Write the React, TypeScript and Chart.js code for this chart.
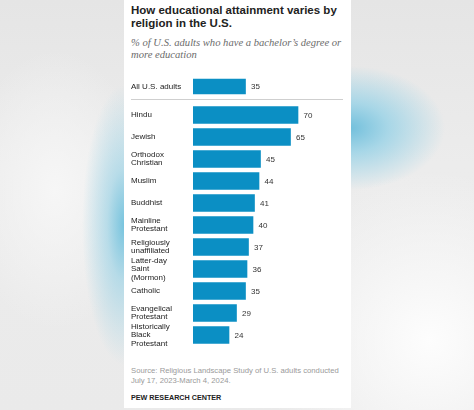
import React, { useEffect, useRef } from "react";
import { Chart, registerables } from "chart.js";

Chart.register(...registerables);

// ---- data ----
const topCategories: string[][] = [["All U.S. adults"]];
const topValues: number[] = [35];

const categories: string[][] = [
  ["Hindu"],
  ["Jewish"],
  ["Orthodox", "Christian"],
  ["Muslim"],
  ["Buddhist"],
  ["Mainline", "Protestant"],
  ["Religiously", "unaffiliated"],
  ["Latter-day", "Saint", "(Mormon)"],
  ["Catholic"],
  ["Evangelical", "Protestant"],
  ["Historically", "Black", "Protestant"],
];
const values: number[] = [70, 65, 45, 44, 41, 40, 37, 36, 35, 29, 24];

const xMax = 100;

const titleLines = ["How educational attainment varies by", "religion in the U.S."];
const subtitleLines = ["% of U.S. adults who have a bachelor’s degree or", "more education"];
const sourceLines = [
  "Source: Religious Landscape Study of U.S. adults conducted",
  "July 17, 2023-March 4, 2024.",
];
const credit = "PEW RESEARCH CENTER";

// ---- styles ----
const SANS = "'Liberation Sans', Arial, Helvetica, sans-serif";
const SERIF = "'Liberation Serif', 'Times New Roman', serif";
const BAR_COLOR = "#0b8fc4";

const valueLabels = {
  id: "valueLabels",
  afterDatasetsDraw(chart: any) {
    const ctx = chart.ctx;
    const meta = chart.getDatasetMeta(0);
    const data = chart.data.datasets[0].data;
    ctx.save();
    ctx.font = `8px ${SANS}`;
    ctx.fillStyle = "#333333";
    ctx.textBaseline = "middle";
    ctx.textAlign = "left";
    meta.data.forEach((bar: any, i: number) => {
      ctx.fillText(String(data[i]), bar.x + 5.5, bar.y + 0.5);
    });
    ctx.restore();
  },
};

function makeConfig(labels: string[][], data: number[], thickness: number, pad: number): any {
  return {
    type: "bar",
    data: {
      labels,
      datasets: [
        {
          data,
          backgroundColor: BAR_COLOR,
          borderWidth: 0,
          barThickness: thickness,
        },
      ],
    },
    options: {
      indexAxis: "y",
      animation: false,
      responsive: true,
      maintainAspectRatio: false,
      layout: { padding: { top: pad, bottom: pad, left: 0, right: 0 } },
      plugins: { legend: { display: false }, tooltip: { enabled: false } },
      scales: {
        x: { type: "linear", min: 0, max: xMax, display: false },
        y: {
          type: "category",
          position: "left",
          grid: { display: false, drawTicks: false },
          border: { display: false },
          ticks: {
            crossAlign: "far",
            autoSkip: false,
            padding: 0,
            color: "#222222",
            font: { family: SANS, size: 8, lineHeight: 1.05 },
          },
          afterFit(scale: any) {
            scale.width = 62;
            scale.paddingTop = 0;
            scale.paddingBottom = 0;
          },
        },
      },
    },
    plugins: [valueLabels],
  };
}

function BarChart(props: { labels: string[][]; data: number[]; thickness: number; pad: number; style: React.CSSProperties }) {
  const ref = useRef<HTMLCanvasElement | null>(null);
  useEffect(() => {
    if (!ref.current) return;
    const chart = new Chart(ref.current, makeConfig(props.labels, props.data, props.thickness, props.pad));
    return () => chart.destroy();
  }, []);
  return (
    <div style={{ position: "absolute", ...props.style }}>
      <canvas ref={ref} />
    </div>
  );
}

export default function App() {
  return (
    <div
      style={{
        position: "absolute",
        left: 0,
        top: 0,
        width: 474,
        height: 410,
        overflow: "hidden",
        background:
          "radial-gradient(ellipse 95px 62px at 350px 128px, rgba(115,192,220,1) 0%, rgba(145,208,230,0.75) 40%, rgba(235,246,250,0) 100%)," +
          "radial-gradient(ellipse 42px 140px at 124px 225px, rgba(120,196,222,1) 0%, rgba(160,212,230,0.7) 40%, rgba(240,245,247,0) 100%)," +
          "radial-gradient(ellipse 170px 170px at 430px 340px, rgba(253,253,253,1) 0%, rgba(250,250,250,0) 100%)," +
          "radial-gradient(ellipse 90px 140px at 55px 190px, rgba(246,246,246,1) 0%, rgba(240,240,240,0) 100%)," +
          "linear-gradient(180deg, #e5e5e5 0%, #ececec 40%, #eaeaea 100%)",
      }}
    >
      <div
        style={{
          position: "absolute",
          left: 124,
          top: 0,
          width: 227,
          height: 408,
          background: "#ffffff",
        }}
      />
      <div
        style={{
          position: "absolute",
          left: 131,
          top: 3.5,
          fontFamily: SANS,
          fontWeight: "bold",
          fontSize: 11.5,
          lineHeight: "13px",
          color: "#222222",
          whiteSpace: "nowrap",
        }}
      >
        {titleLines[0]}
        <br />
        {titleLines[1]}
      </div>
      <div
        style={{
          position: "absolute",
          left: 131,
          top: 37,
          fontFamily: SERIF,
          fontStyle: "italic",
          fontSize: 10.6,
          lineHeight: "12px",
          color: "#6b6b6b",
          whiteSpace: "nowrap",
        }}
      >
        {subtitleLines[0]}
        <br />
        {subtitleLines[1]}
      </div>

      <BarChart labels={topCategories} data={topValues} thickness={15} pad={0} style={{ left: 131, top: 76, width: 212, height: 21 }} />
      <div style={{ position: "absolute", left: 131, top: 99, width: 212, height: 1, background: "#cfcfcf" }} />
      <BarChart labels={categories} data={values} thickness={17} pad={6} style={{ left: 131, top: 97.5, width: 212, height: 254 }} />

      <div
        style={{
          position: "absolute",
          left: 131,
          top: 365.8,
          fontFamily: SANS,
          fontSize: 7.7,
          lineHeight: "10.6px",
          color: "#9a9a9a",
          whiteSpace: "nowrap",
        }}
      >
        {sourceLines[0]}
        <br />
        {sourceLines[1]}
      </div>
      <div
        style={{
          position: "absolute",
          left: 131,
          top: 393,
          fontFamily: SANS,
          fontWeight: "bold",
          fontSize: 7.2,
          lineHeight: "10px",
          color: "#222222",
          whiteSpace: "nowrap",
        }}
      >
        {credit}
      </div>
    </div>
  );
}
